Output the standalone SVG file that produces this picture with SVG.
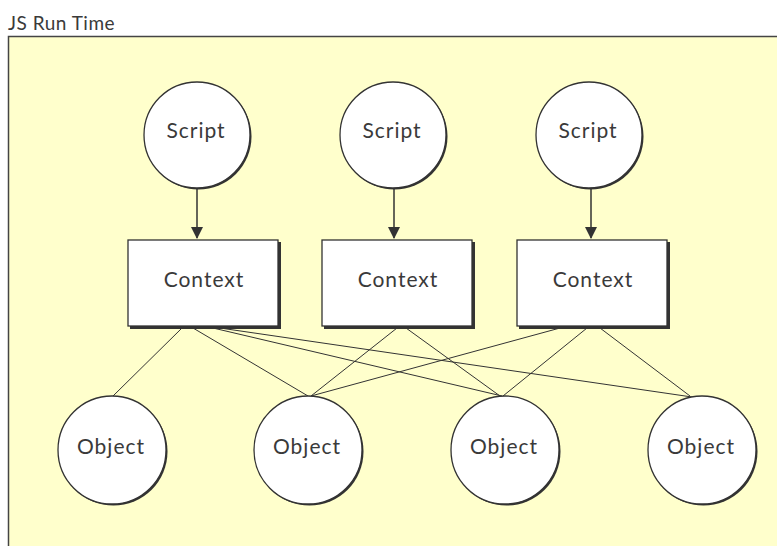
<svg xmlns="http://www.w3.org/2000/svg" width="777" height="546" viewBox="0 0 777 546">
<defs>
<style>
.lbl{font-family:Lato,"Open Sans","Liberation Sans",sans-serif;font-size:21px;letter-spacing:1px;fill:#3a3a3a;text-anchor:middle}
.title{font-family:Lato,"Open Sans","Liberation Sans",sans-serif;font-size:19px;letter-spacing:0.5px;fill:#3a3a3a}
.node{fill:#fff;stroke:#333;stroke-width:1.3}
.shadow{fill:#333}
.edge{stroke:#333;stroke-width:1;fill:none}
.arrow{stroke:#333;stroke-width:1.5;fill:none}
</style>
<marker id="ah" markerWidth="12" markerHeight="12" viewBox="0 0 12 12" refX="11" refY="6" orient="auto" markerUnits="userSpaceOnUse">
<path d="M0,0 L12,6 L0,12 Z" fill="#333"/>
</marker>
</defs>
<rect x="0" y="0" width="777" height="546" fill="#fff"/>
<rect x="8" y="36" width="769" height="510" fill="#ffffcc"/>
<path d="M8.5,546 V36.5 H777" stroke="#444" stroke-width="1.5" fill="none"/>
<text class="title" x="8" y="30">JS Run Time</text>

<g id="connectors">
<line class="arrow" x1="197" y1="188" x2="197" y2="238" marker-end="url(#ah)"/>
<line class="arrow" x1="394" y1="188" x2="394" y2="238" marker-end="url(#ah)"/>
<line class="arrow" x1="591" y1="188" x2="591" y2="238" marker-end="url(#ah)"/>
<line class="edge" x1="182" y1="328" x2="113" y2="396"/>
<line class="edge" x1="193" y1="328" x2="308" y2="396"/>
<line class="edge" x1="213" y1="328" x2="502" y2="396"/>
<line class="edge" x1="220" y1="328" x2="692" y2="397"/>
<line class="edge" x1="397" y1="328" x2="311" y2="396"/>
<line class="edge" x1="406" y1="328" x2="500" y2="396"/>
<line class="edge" x1="560" y1="328" x2="311" y2="396"/>
<line class="edge" x1="587" y1="328" x2="503" y2="396"/>
<line class="edge" x1="600" y1="328" x2="690" y2="396"/>
</g>

<g id="script1"><circle class="shadow" cx="198.5" cy="136.5" r="53"/><circle class="node" cx="197" cy="135" r="53"/><text class="lbl" x="196" y="138">Script</text></g>
<g id="script2"><circle class="shadow" cx="394.5" cy="136.5" r="53"/><circle class="node" cx="393" cy="135" r="53"/><text class="lbl" x="392" y="138">Script</text></g>
<g id="script3"><circle class="shadow" cx="590.5" cy="136.5" r="53"/><circle class="node" cx="589" cy="135" r="53"/><text class="lbl" x="588" y="138">Script</text></g>

<g id="context1"><rect class="shadow" x="130" y="242" width="151" height="87"/><rect class="node" x="128" y="240" width="150" height="86"/><text class="lbl" x="204" y="287">Context</text></g>
<g id="context2"><rect class="shadow" x="324" y="242" width="151" height="87"/><rect class="node" x="322" y="240" width="150" height="86"/><text class="lbl" x="398" y="287">Context</text></g>
<g id="context3"><rect class="shadow" x="519" y="242" width="151" height="87"/><rect class="node" x="517" y="240" width="150" height="86"/><text class="lbl" x="593" y="287">Context</text></g>

<g id="object1"><circle class="shadow" cx="113.5" cy="451.5" r="54"/><circle class="node" cx="112" cy="450" r="54"/><text class="lbl" x="111" y="454">Object</text></g>
<g id="object2"><circle class="shadow" cx="309.5" cy="451.5" r="54"/><circle class="node" cx="308" cy="450" r="54"/><text class="lbl" x="307" y="454">Object</text></g>
<g id="object3"><circle class="shadow" cx="506.5" cy="451.5" r="54"/><circle class="node" cx="505" cy="450" r="54"/><text class="lbl" x="504" y="454">Object</text></g>
<g id="object4"><circle class="shadow" cx="703.5" cy="451.5" r="54"/><circle class="node" cx="702" cy="450" r="54"/><text class="lbl" x="701" y="454">Object</text></g>
</svg>
